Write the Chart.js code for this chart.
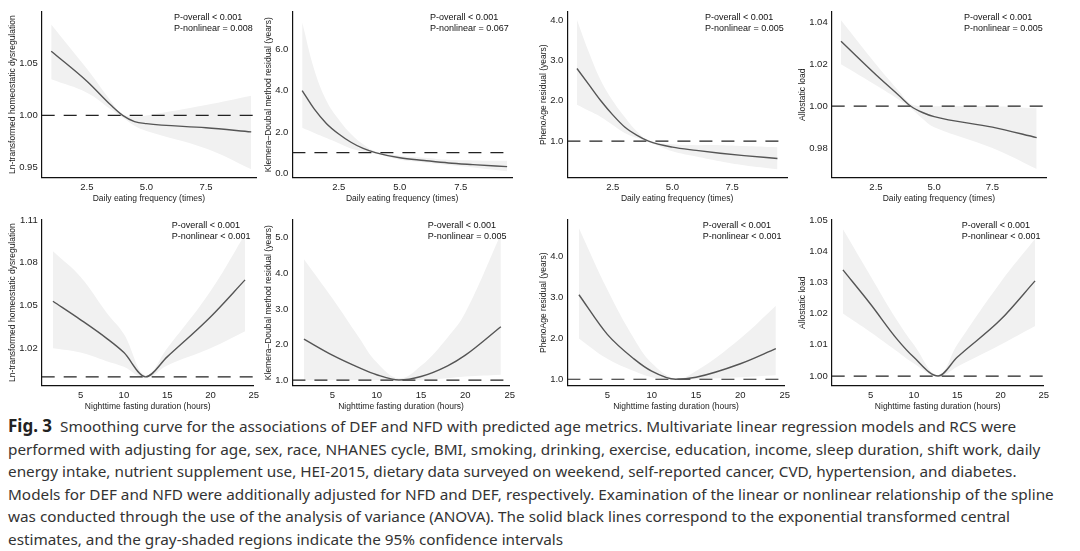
<!DOCTYPE html>
<html><head><meta charset="utf-8">
<script src="https://cdn.jsdelivr.net/npm/chart.js@4.4.0/dist/chart.umd.min.js"></script>
<style>
body{margin:0;background:#fff;width:1080px;height:551px;overflow:hidden;position:relative;font-family:"Noto Sans",sans-serif}
.p{position:absolute;width:252px;height:200px}
#cap{position:absolute;left:8px;top:415px;width:1070px;font-size:15.3px;line-height:22.6px;color:#333}
#cap b{color:#222}
</style></head><body>
<div class="p" style="left:8px;top:4px"><canvas id="c0"></canvas></div>
<div class="p" style="left:264px;top:4px"><canvas id="c1"></canvas></div>
<div class="p" style="left:539px;top:4px"><canvas id="c2"></canvas></div>
<div class="p" style="left:798px;top:4px"><canvas id="c3"></canvas></div>
<div class="p" style="left:8px;top:212px"><canvas id="c4"></canvas></div>
<div class="p" style="left:264px;top:212px"><canvas id="c5"></canvas></div>
<div class="p" style="left:539px;top:212px"><canvas id="c6"></canvas></div>
<div class="p" style="left:798px;top:212px"><canvas id="c7"></canvas></div>
<div id="cap"><b style="font-size:17px">Fig. 3</b>&nbsp; Smoothing curve for the associations of DEF and NFD with predicted age metrics. Multivariate linear regression models and RCS were<br>performed with adjusting for age, sex, race, NHANES cycle, BMI, smoking, drinking, exercise, education, income, sleep duration, shift work, daily<br>energy intake, nutrient supplement use, HEI-2015, dietary data surveyed on weekend, self-reported cancer, CVD, hypertension, and diabetes.<br>Models for DEF and NFD were additionally adjusted for NFD and DEF, respectively. Examination of the linear or nonlinear relationship of the spline<br>was conducted through the use of the analysis of variance (ANOVA). The solid black lines correspond to the exponential transformed central<br>estimates, and the gray-shaded regions indicate the 95% confidence intervals</div>
<script>
const DEF_X = 'Daily eating frequency (times)';
const NFD_X = 'Nighttime fasting duration (hours)';

// each panel: x, central estimate, lower / upper 95% CI
const panels = [
  { ylab: 'Ln-transformed homeostatic dysregulation', xlab: DEF_X, p1: 'P-overall < 0.001', p2: 'P-nonlinear = 0.008',
    xr: [0.6, 9.6], xt: [2.5, 5, 7.5], yr: [0.94, 1.1], yt: [0.95, 1.0, 1.05], dec: 2,
    x:  [1, 2.5, 3.5, 4, 4.5, 5, 7.5, 9.4],
    y:  [1.062, 1.033, 1.01, 1.0, 0.994, 0.992, 0.988, 0.984],
    lo: [1.035, 1.022, 1.006, 0.998, 0.99, 0.985, 0.968, 0.948],
    hi: [1.088, 1.045, 1.014, 1.001, 0.999, 1.0, 1.01, 1.019] },
  { ylab: 'Klemera–Doubal method residual (years)', xlab: DEF_X, p1: 'P-overall < 0.001', p2: 'P-nonlinear = 0.067',
    xr: [0.6, 9.6], xt: [2.5, 5, 7.5], yr: [-0.2, 7.8], yt: [0, 2, 4, 6], dec: 1,
    x:  [1, 1.5, 2, 2.5, 3, 3.5, 4, 5, 6, 7, 8, 9.4],
    y:  [4.0, 3.1, 2.4, 1.9, 1.5, 1.2, 1.0, 0.75, 0.62, 0.5, 0.42, 0.32],
    lo: [2.2, 1.95, 1.7, 1.45, 1.2, 1.05, 0.95, 0.65, 0.52, 0.4, 0.28, 0.1],
    hi: [7.3, 5.0, 3.5, 2.6, 1.9, 1.4, 1.05, 0.85, 0.75, 0.65, 0.62, 0.6] },
  { ylab: 'PhenoAge residual (years)', xlab: DEF_X, p1: 'P-overall < 0.001', p2: 'P-nonlinear = 0.005',
    xr: [0.6, 9.8], xt: [2.5, 5, 7.5], yr: [0.1, 4.2], yt: [1, 2, 3, 4], dec: 1,
    x:  [1, 1.5, 2, 2.5, 3, 3.5, 4, 5, 6, 7, 8, 9.4],
    y:  [2.8, 2.4, 2.0, 1.65, 1.35, 1.15, 1.0, 0.85, 0.77, 0.7, 0.64, 0.57],
    lo: [1.9, 1.75, 1.6, 1.4, 1.2, 1.08, 0.98, 0.75, 0.62, 0.5, 0.4, 0.3],
    hi: [4.0, 3.2, 2.5, 2.0, 1.6, 1.25, 1.02, 0.92, 0.9, 0.9, 0.88, 0.85] },
  { ylab: 'Allostatic load', xlab: DEF_X, p1: 'P-overall < 0.001', p2: 'P-nonlinear = 0.005',
    xr: [0.6, 9.8], xt: [2.5, 5, 7.5], yr: [0.966, 1.045], yt: [0.98, 1.0, 1.02, 1.04], dec: 2,
    x:  [1, 2.5, 3.5, 4, 4.5, 5, 7.5, 9.4],
    y:  [1.031, 1.015, 1.005, 1.0, 0.997, 0.995, 0.99, 0.985],
    lo: [1.02, 1.01, 1.003, 0.999, 0.994, 0.99, 0.98, 0.97],
    hi: [1.041, 1.02, 1.007, 1.001, 1.0, 1.0, 1.0, 0.999] },
  { ylab: 'Ln-transformed homeostatic dysregulation', xlab: NFD_X, p1: 'P-overall < 0.001', p2: 'P-nonlinear < 0.001',
    xr: [0.5, 25], xt: [5, 10, 15, 20, 25], yr: [0.994, 1.11], yt: [1.02, 1.05, 1.08, 1.11], dec: 2,
    x:  [1.8, 5, 8, 10, 12.5, 15, 20, 24],
    y:  [1.053, 1.04, 1.027, 1.017, 1.0, 1.014, 1.042, 1.068],
    lo: [1.02, 1.017, 1.011, 1.007, 0.999, 1.008, 1.02, 1.032],
    hi: [1.088, 1.07, 1.045, 1.03, 1.001, 1.02, 1.06, 1.1] },
  { ylab: 'Klemera–Doubal method residual (years)', xlab: NFD_X, p1: 'P-overall < 0.001', p2: 'P-nonlinear = 0.005',
    xr: [0.5, 25], xt: [5, 10, 15, 20, 25], yr: [0.85, 5.5], yt: [1, 2, 3, 4, 5], dec: 1,
    x:  [1.8, 5, 8, 10, 12.5, 15, 18, 20, 24],
    y:  [2.15, 1.7, 1.35, 1.15, 1.0, 1.1, 1.4, 1.7, 2.5],
    lo: [1.0, 1.0, 1.0, 1.0, 0.99, 1.0, 1.05, 1.1, 1.15],
    hi: [4.4, 3.3, 2.2, 1.5, 1.05, 1.4, 2.2, 2.9, 5.1] },
  { ylab: 'PhenoAge residual (years)', xlab: NFD_X, p1: 'P-overall < 0.001', p2: 'P-nonlinear < 0.001',
    xr: [0.5, 25], xt: [5, 10, 15, 20, 25], yr: [0.85, 4.9], yt: [1, 2, 3, 4], dec: 1,
    x:  [1.8, 5, 8, 10, 12.7, 15, 20, 24],
    y:  [3.07, 2.1, 1.5, 1.2, 1.0, 1.05, 1.38, 1.75],
    lo: [2.0, 1.5, 1.2, 1.05, 0.98, 1.0, 1.05, 1.1],
    hi: [4.7, 3.2, 2.0, 1.4, 1.02, 1.2, 2.0, 2.8] },
  { ylab: 'Allostatic load', xlab: NFD_X, p1: 'P-overall < 0.001', p2: 'P-nonlinear < 0.001',
    xr: [0.5, 25], xt: [5, 10, 15, 20, 25], yr: [0.997, 1.05], yt: [1.0, 1.01, 1.02, 1.03, 1.04, 1.05], dec: 2,
    x:  [1.8, 5, 8, 10, 12.8, 15, 20, 24],
    y:  [1.034, 1.023, 1.012, 1.006, 1.0, 1.006, 1.018, 1.0305],
    lo: [1.02, 1.014, 1.008, 1.004, 0.9998, 1.003, 1.01, 1.016],
    hi: [1.047, 1.032, 1.018, 1.01, 1.0002, 1.01, 1.03, 1.044] }
];

// P-value text in top right corner
const pText = {
  id: 'pText',
  afterDraw(chart, args, opts) {
    const { ctx, chartArea } = chart;
    ctx.save();
    ctx.font = '9px "Liberation Sans", Arial, sans-serif';
    ctx.fillStyle = '#111';
    ctx.textBaseline = 'top';
    const x = chartArea.right - 82;
    ctx.fillText(opts.p1, x, chartArea.top + 1);
    ctx.fillText(opts.p2, x, chartArea.top + 12);
    ctx.restore();
  }
};

const tickFont = { family: '"Liberation Sans", Arial, sans-serif', size: 9.5 };
const titleFont = { family: '"Liberation Sans", Arial, sans-serif', size: 8.5 };

panels.forEach((p, i) => {
  const pts = (arr) => p.x.map((x, k) => ({ x: x, y: arr[k] }));
  new Chart(document.getElementById('c' + i).getContext('2d'), {
    type: 'line',
    data: {
      datasets: [
        { data: pts(p.lo), borderWidth: 0, pointRadius: 0, fill: false, tension: 0.4, order: 3 },
        { data: pts(p.hi), borderWidth: 0, pointRadius: 0, fill: '-1', backgroundColor: '#f1f1f1', tension: 0.4, order: 2 },
        { data: [{ x: p.xr[0], y: 1 }, { x: p.xr[1], y: 1 }], borderColor: '#222', borderWidth: 1.2, borderDash: [13, 9], pointRadius: 0, order: 1 },
        { data: pts(p.y), borderColor: '#555', borderWidth: 1.4, pointRadius: 0, tension: 0.4, cubicInterpolationMode: 'monotone', order: 0 }
      ]
    },
    options: {
      responsive: true,
      maintainAspectRatio: false,
      animation: false,
      layout: { padding: { top: 8, right: 4 } },
      plugins: { legend: { display: false }, tooltip: { enabled: false }, pText: { p1: p.p1, p2: p.p2 } },
      scales: {
        x: {
          type: 'linear', min: p.xr[0], max: p.xr[1],
          afterBuildTicks: (s) => { s.ticks = p.xt.map(v => ({ value: v })); },
          ticks: { font: tickFont, color: '#222', padding: 1,
            callback: (v) => (p.xt[0] === 2.5 ? v.toFixed(1) : v) },
          grid: { display: false, drawTicks: true, tickLength: 3 },
          border: { color: '#111', width: 1.2 },
          title: { display: true, text: p.xlab, font: titleFont, color: '#222', padding: 0 }
        },
        y: {
          min: p.yr[0], max: p.yr[1],
          afterBuildTicks: (s) => { s.ticks = p.yt.map(v => ({ value: v })); },
          ticks: { font: tickFont, color: '#222', padding: 1, callback: (v) => v.toFixed(p.dec) },
          grid: { display: false, drawTicks: true, tickLength: 3 },
          border: { color: '#111', width: 1.2 },
          title: { display: true, text: p.ylab, font: titleFont, color: '#222', padding: 0 }
        }
      }
    },
    plugins: [pText]
  });
});
</script>
</body></html>
